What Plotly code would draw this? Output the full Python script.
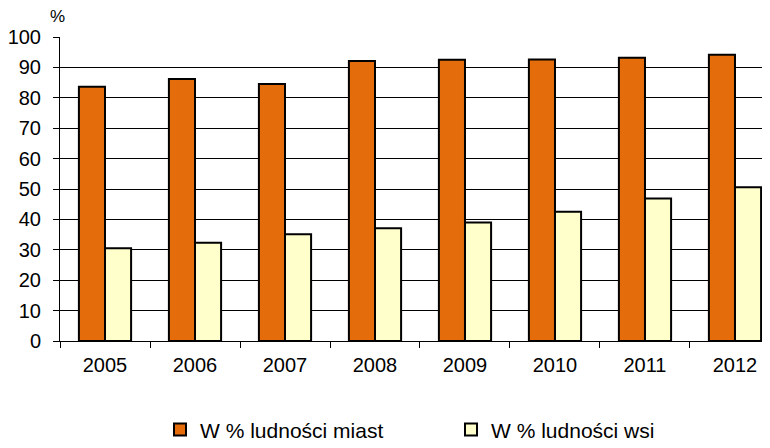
import plotly.graph_objects as go

lata = ['2005', '2006', '2007', '2008', '2009', '2010', '2011', '2012']
miasta = [83.6, 86.2, 84.5, 92.1, 92.5, 92.6, 93.2, 94.2]
wsie = [30.5, 32.3, 35.1, 37.1, 39.0, 42.5, 46.9, 50.6]
y_ticks = list(range(0, 101, 10))

fig = go.Figure()
fig.add_trace(go.Bar(
    x=lata, y=miasta, name='W % ludności miast',
    marker=dict(color='#E46C0A', line=dict(color='black', width=2))
))
fig.add_trace(go.Bar(
    x=lata, y=wsie, name='W % ludności wsi',
    marker=dict(color='#FFFFCC', line=dict(color='black', width=2))
))

# strona ma 8px marginesu body, wiec figura jest o 8px mniejsza
fig.update_layout(
    width=762, height=440,
    margin=dict(l=52, r=0, t=29, b=107, autoexpand=False),
    paper_bgcolor='white', plot_bgcolor='white',
    font=dict(family='Liberation Sans, Arial, sans-serif', size=20, color='black'),
    barmode='group', bargap=0.42, bargroupgap=0,
    showlegend=True,
    legend=dict(
        orientation='h', xref='container', yref='container',
        x=0.1995, y=0.041, xanchor='left', yanchor='middle',
        font=dict(size=21), itemwidth=30,
        entrywidth=246, entrywidthmode='pixels'
    ),
    xaxis=dict(
        type='category', range=[-0.5, 7.389], automargin=False,
        showline=True, linecolor='black', linewidth=1,
        ticks='outside', tickson='boundaries', ticklen=6, tickcolor='black',
        showgrid=False, ticklabelstandoff=6
    ),
    yaxis=dict(
        range=[0, 100], tickvals=y_ticks, automargin=False,
        showline=True, linecolor='black', linewidth=1,
        ticks='outside', ticklen=6, tickcolor='black',
        showgrid=True, gridcolor='black', gridwidth=1,
        ticklabelstandoff=8, zeroline=False
    ),
    annotations=[dict(
        text='%', xref='paper', yref='paper',
        x=-3 / 710, y=1 + 20 / 304, showarrow=False,
        font=dict(size=17), xanchor='center', yanchor='middle'
    )]
)

fig.write_html("out.html")
